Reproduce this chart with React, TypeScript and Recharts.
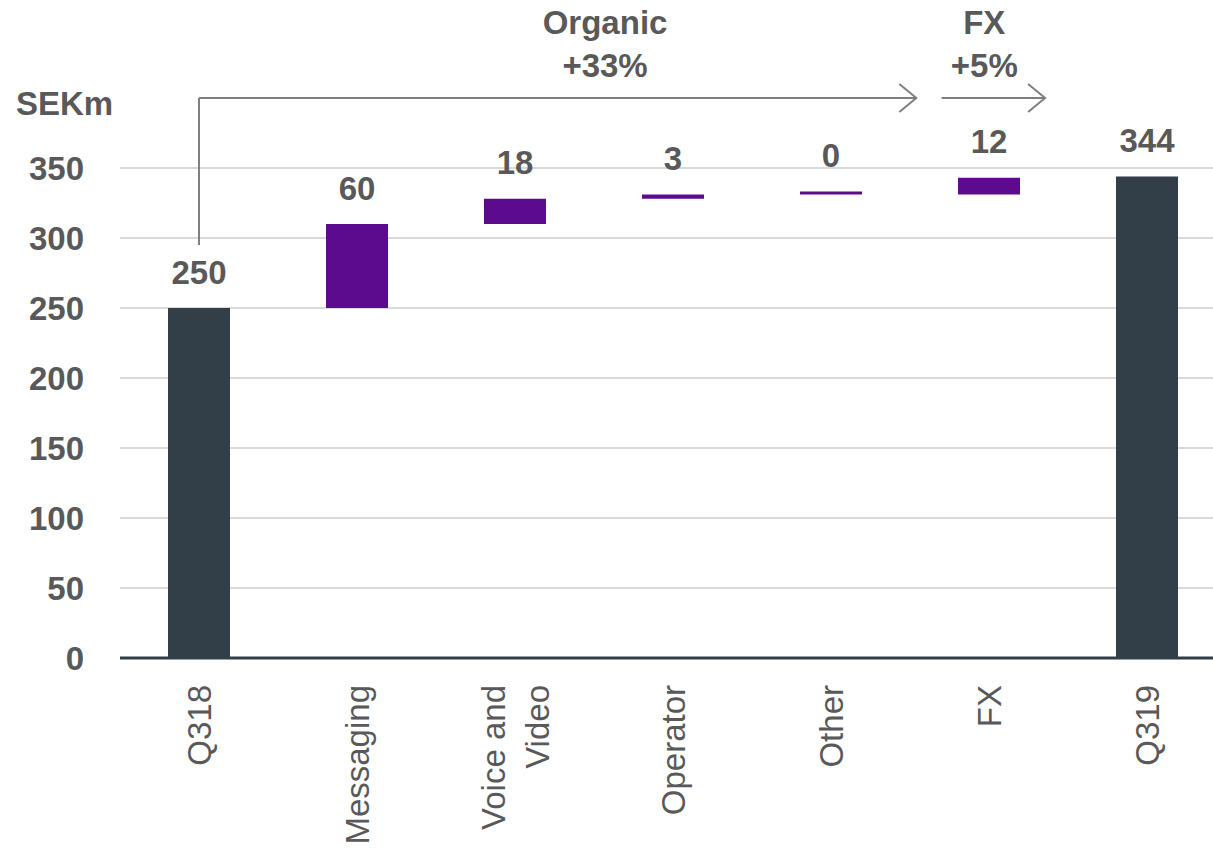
import { BarChart, Bar, XAxis, YAxis, CartesianGrid, Cell, LabelList, ReferenceLine, ReferenceDot } from 'recharts'

const CATEGORIES = ['Q318', 'Messaging', 'Voice and Video', 'Operator', 'Other', 'FX', 'Q319']
const VALUES = [250, 60, 18, 3, 0, 12, 344]
const IS_TOTAL = [true, false, false, false, false, false, true]
const Y_TICKS = [0, 50, 100, 150, 200, 250, 300, 350]

// annotations: x on a 0..7 band-index scale, y in SEKm
const ORGANIC_RISE = [{ x: 0.5, y: 295 }, { x: 0.5, y: 400 }]
const ORGANIC_ARROW = [{ x: 0.5, y: 400 }, { x: 5.04, y: 400 }]
const FX_ARROW = [{ x: 5.2, y: 400 }, { x: 5.855, y: 400 }]
const HEADINGS = [
    { x: 3.07, y: 454, text: 'Organic' },
    { x: 3.07, y: 423, text: '+33%' },
    { x: 5.47, y: 454, text: 'FX' },
    { x: 5.47, y: 423, text: '+5%' },
]

const DARK = '#333f48'
const PURPLE = '#5c0a8e'
const GREY_TEXT = '#595959'
const ARROW = '#7f7f7f'
const FONT = 'Liberation Sans, Arial, sans-serif'

let running = 0
const data = CATEGORIES.map((name, i) => {
    const base = IS_TOTAL[i] ? 0 : running
    running = IS_TOTAL[i] ? VALUES[i] : running + VALUES[i]
    return { name, pos: i + 0.5, base, value: VALUES[i], total: IS_TOTAL[i] }
})

function CategoryTick({ x, y, payload }: any) {
    const lines = payload.value === 'Voice and Video' ? ['Voice and', 'Video'] : [payload.value]
    const lh = 44
    const first = -((lines.length - 1) * lh) / 2
    return (
        <g transform={`translate(${x},${y})`}>
            <text transform="rotate(-90)" textAnchor="end" fill={GREY_TEXT} fontSize={33} fontFamily={FONT}>
                {lines.map((l, i) => (
                    <tspan key={i} x={-27} y={first + i * lh} dy="0.35em">{l}</tspan>
                ))}
            </text>
        </g>
    )
}

function ValueLabel({ x, y, width, value }: any) {
    return (
        <text x={x + width / 2} y={y - 36} dy="0.35em" textAnchor="middle" fill={GREY_TEXT} fontSize={33} fontWeight="bold" fontFamily={FONT}>
            {value}
        </text>
    )
}

function PlainLine({ x1, y1, x2, y2 }: any) {
    return <line x1={x1} y1={y1} x2={x2} y2={y2} stroke={ARROW} strokeWidth={2} />
}

function ArrowLine({ x1, y1, x2, y2 }: any) {
    return (
        <g>
            <line x1={x1} y1={y1} x2={x2} y2={y2} stroke={ARROW} strokeWidth={2} />
            <polyline points={`${x2 - 17},${y2 - 14} ${x2},${y2} ${x2 - 17},${y2 + 14}`} fill="none" stroke={ARROW} strokeWidth={2} />
        </g>
    )
}

function UnitLabel({ viewBox }: any) {
    return (
        <text x={viewBox.x + 16} y={viewBox.y - 65} dy="0.35em" fill={GREY_TEXT} fontSize={33} fontWeight="bold" fontFamily={FONT}>
            SEKm
        </text>
    )
}

export default function App() {
    return (
        <div style={{ width: 1213, height: 849, overflow: 'hidden', fontFamily: FONT, background: '#fff' }}>
            <style>{'body{margin:0}'}</style>
            <BarChart width={1226} height={849} data={data} margin={{ top: 168, right: 0, left: 0, bottom: 0 }} barSize={62}>
                <CartesianGrid xAxisId="c" horizontal vertical={false} stroke="#d9d9d9" strokeWidth={2} />
                <XAxis
                    xAxisId="c"
                    dataKey="name"
                    interval={0}
                    height={191}
                    tickLine={false}
                    tickSize={0}
                    tickMargin={0}
                    axisLine={{ stroke: DARK, strokeWidth: 3 }}
                    tick={<CategoryTick />}
                />
                <XAxis xAxisId="n" dataKey="pos" type="number" domain={[0, 7]} allowDataOverflow hide padding={{ left: 0, right: 0 }} />
                <YAxis
                    domain={[0, 350]}
                    ticks={Y_TICKS}
                    width={120}
                    axisLine={false}
                    tickLine={false}
                    tickSize={0}
                    tickMargin={36}
                    tick={{ fill: GREY_TEXT, fontSize: 33, fontWeight: 'bold', fontFamily: FONT }}
                    label={<UnitLabel />}
                />
                <Bar xAxisId="c" dataKey="base" stackId="w" fill="transparent" isAnimationActive={false} />
                <Bar xAxisId="c" dataKey="value" stackId="w" minPointSize={3} isAnimationActive={false}>
                    {data.map((d, i) => (
                        <Cell key={`cell-${i}`} fill={d.total ? DARK : PURPLE} />
                    ))}
                    <LabelList dataKey="value" content={<ValueLabel />} />
                </Bar>
                <ReferenceLine xAxisId="n" segment={ORGANIC_RISE} ifOverflow="visible" shape={<PlainLine />} />
                <ReferenceLine xAxisId="n" segment={ORGANIC_ARROW} ifOverflow="visible" shape={<ArrowLine />} />
                <ReferenceLine xAxisId="n" segment={FX_ARROW} ifOverflow="visible" shape={<ArrowLine />} />
                {HEADINGS.map((h, i) => (
                    <ReferenceDot
                        key={`h-${i}`}
                        xAxisId="n"
                        x={h.x}
                        y={h.y}
                        r={0}
                        ifOverflow="visible"
                        shape={(p: any) => (
                            <text x={p.cx} y={p.cy} dy="0.35em" textAnchor="middle" fill={GREY_TEXT} fontSize={33} fontWeight="bold" fontFamily={FONT}>
                                {h.text}
                            </text>
                        )}
                    />
                ))}
            </BarChart>
        </div>
    )
}
